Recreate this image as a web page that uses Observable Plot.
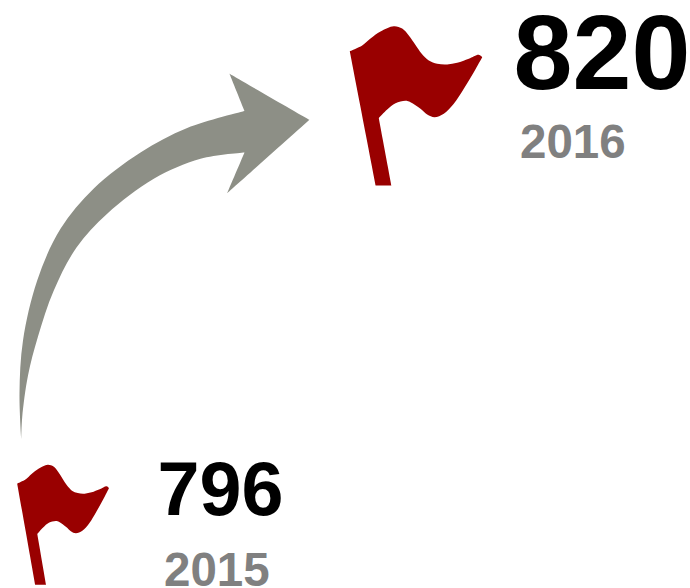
<!DOCTYPE html>
<html>
<head>
<meta charset="utf-8">
<script src="https://cdn.jsdelivr.net/npm/d3@7"></script>
<script src="https://cdn.jsdelivr.net/npm/@observablehq/plot@0.6"></script>
<style>
html,body{margin:0;padding:0;background:#fff;overflow:hidden}
svg{display:block}
</style>
</head>
<body>
<div id="chart"></div>
<script>
const years = ["2015", "2016"];
const values = ["796", "820"];

// Flag outline (a repeated point is a sharp corner)
const flagX = [349.3,349.3,361.7,370,380,393.3,401.7,408.3,415,421,428.3,436.7,446.7,456.7,468.3,478.3,481.7,481.7,473.3,463.3,453.3,443.3,434,426.7,420,410,405,395,386.7,378.3,378.3,391,391,375.3,375.3,349.3,349.3];
const flagY = [50.7,50.7,45,38,31,25.7,28,35,44.5,53,60,63.3,64,62.3,58.3,54.3,56.7,56.7,71.7,88.3,103.3,113.3,116.7,114,108.3,101.7,100.3,102.7,109,117.5,117.5,185,185,185,185,50.7,50.7];

// Arrow outline
const arrowX = [20.7,20.7,19,22.5,36.7,60,93.3,140,186.7,244,244,229,229,309,309,226.7,226.7,244,244,200,153.3,106.7,76,53.3,37.5,27.5,21.7,20.7,20.7];
const arrowY = [438.3,438.3,393,340,280,228.3,188,152,127.5,110.5,110.5,73.3,73.3,119.3,119.3,192.7,192.7,152,152,158.3,178.3,213.3,247,290,336,375,416.7,438.3,438.3];

const flagTop = flagX.map((x, i) => ({x, y: flagY[i]}));
const flagBottom = flagX.map((x, i) => ({
  x: 16.7 + (x - 349.3) * 0.693,
  y: 464.3 + (flagY[i] - 25.7) * 0.753
}));
const arrow = arrowX.map((x, i) => ({x, y: arrowY[i]}));
const font = "'Liberation Sans', Arial, sans-serif";

const chart = Plot.plot({
  width: 690,
  height: 588,
  margin: 0,
  x: {domain: [0, 690], range: [0, 690], axis: null},
  y: {domain: [0, 588], range: [0, 588], axis: null},
  marks: [
    Plot.line(arrow, {x: "x", y: "y", fill: "#8d8f86", stroke: "none", curve: "catmull-rom"}),
    Plot.line(flagTop, {x: "x", y: "y", fill: "#990000", stroke: "none", curve: "catmull-rom"}),
    Plot.line(flagBottom, {x: "x", y: "y", fill: "#990000", stroke: "none", curve: "catmull-rom"}),
    Plot.text([values[1]], {x: () => 513, y: () => 88, text: d => d, fontSize: 106, fontWeight: "bold", fontFamily: font, fill: "#000", textAnchor: "start", lineAnchor: "bottom"}),
    Plot.text([values[0]], {x: () => 157, y: () => 514, text: d => d, fontSize: 75.5, fontWeight: "bold", fontFamily: font, fill: "#000", textAnchor: "start", lineAnchor: "bottom"}),
    Plot.text([years[1]], {x: () => 519.5, y: () => 157, text: d => d, fontSize: 47.5, fontWeight: "bold", fontFamily: font, fill: "#808080", textAnchor: "start", lineAnchor: "bottom"}),
    Plot.text([years[0]], {x: () => 163.5, y: () => 585, text: d => d, fontSize: 47.5, fontWeight: "bold", fontFamily: font, fill: "#808080", textAnchor: "start", lineAnchor: "bottom"})
  ]
});
document.getElementById("chart").append(chart);
</script>
</body>
</html>
